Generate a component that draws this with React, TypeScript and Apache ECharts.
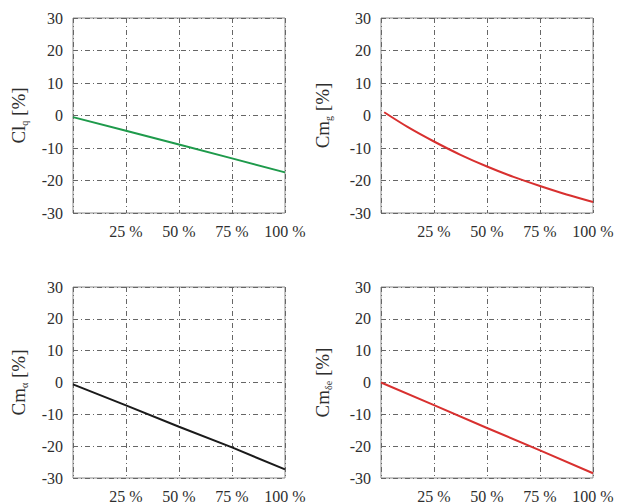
import React, { useEffect, useRef } from "react";
import * as echarts from "echarts";

const xTicks = [0, 25, 50, 75, 100];
const yMin = -30;
const yMax = 30;

const clqX = [0, 25, 50, 75, 100];
const clqY = [-0.5, -4.7, -8.9, -13.2, -17.5];

const cmgX = [1.5, 12.5, 25, 37.5, 50, 62.5, 75, 87.5, 100];
const cmgY = [1.0, -3.5, -8.0, -12.1, -15.7, -18.9, -21.7, -24.3, -26.6];

const cmaX = [0, 25, 50, 75, 100];
const cmaY = [-0.6, -7.2, -13.9, -20.4, -27.3];

const cmdX = [0, 25, 50, 75, 100];
const cmdY = [0, -7.1, -14.3, -21.3, -28.5];

const names = [
  ["Cl", "q"],
  ["Cm", "g"],
  ["Cm", "α"],
  ["Cm", "δe"],
];
const colors = ["#1e9a4b", "#d8302f", "#1a1a1a", "#d8302f"];

const FONT = "Liberation Serif";
const TEXT = "#2e2e2e";

export default function App() {
  const ref = useRef<HTMLDivElement>(null);
  useEffect(() => {
    if (!ref.current) return;
    const chart = echarts.init(ref.current, null, { renderer: "svg" });
    const grids = [
      { left: 73, top: 18, width: 212, height: 195 },
      { left: 381, top: 18, width: 212, height: 195 },
      { left: 73, top: 287, width: 212, height: 194 },
      { left: 381, top: 287, width: 212, height: 194 },
    ];
    const gaps = [44, 48, 44, 48];
    const seriesData = [
      clqX.map((x, i) => [x, clqY[i]]),
      cmgX.map((x, i) => [x, cmgY[i]]),
      cmaX.map((x, i) => [x, cmaY[i]]),
      cmdX.map((x, i) => [x, cmdY[i]]),
    ];
    const split = {
      show: true,
      lineStyle: { color: "#666", width: 1, type: [5, 3, 1, 3] as any },
    };
    chart.setOption({
      animation: false,
      grid: grids.map((g) => ({
        ...g,
        show: true,
        borderColor: "#8a8a8a",
        borderWidth: 1,
        backgroundColor: "transparent",
      })),
      xAxis: grids.map((_, i) => ({
        type: "value",
        gridIndex: i,
        min: xTicks[0],
        max: xTicks[xTicks.length - 1],
        interval: 25,
        axisLine: { show: false },
        axisTick: { show: false },
        splitLine: split,
        axisLabel: {
          fontFamily: FONT,
          fontSize: 16,
          color: TEXT,
          margin: 10,
          formatter: (v: number) => (v === 0 ? "" : v + " %"),
        },
      })),
      yAxis: grids.map((_, i) => ({
        type: "value",
        gridIndex: i,
        min: yMin,
        max: yMax,
        interval: 10,
        axisLine: { show: false },
        axisTick: { show: false },
        splitLine: split,
        axisLabel: {
          fontFamily: FONT,
          fontSize: 16,
          color: TEXT,
          margin: 10,
        },
        name: `{a|${names[i][0]}}{s|${names[i][1]}}{a| [%]}`,
        nameLocation: "middle",
        nameRotate: 90,
        nameGap: gaps[i],
        nameTextStyle: {
          fontFamily: FONT,
          color: TEXT,
          rich: {
            a: { fontFamily: FONT, fontSize: 19, color: TEXT, lineHeight: 22 },
            s: {
              fontFamily: FONT,
              fontSize: 10,
              color: TEXT,
              verticalAlign: "bottom",
              lineHeight: 22,
              padding: [6, 0, 0, 0],
            },
          },
        },
      })),
      series: seriesData.map((d, i) => ({
        type: "line",
        xAxisIndex: i,
        yAxisIndex: i,
        data: d,
        showSymbol: false,
        smooth: i === 1 ? 0.3 : false,
        lineStyle: { color: colors[i], width: 2 },
        itemStyle: { color: colors[i] },
      })),
    });
    return () => chart.dispose();
  }, []);
  return (
    <div
      ref={ref}
      style={{ position: "fixed", left: 0, top: 0, width: 619, height: 504, background: "#fff" }}
    />
  );
}
